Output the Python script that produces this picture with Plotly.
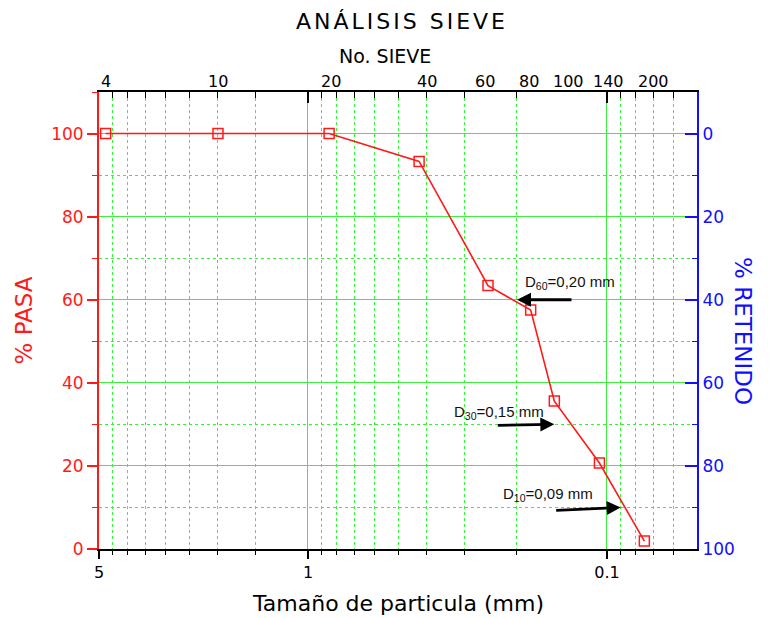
import math
import plotly.graph_objects as go

# Sieve analysis data
sieve_no = ["4", "10", "20", "40", "60", "80", "100", "140", "200"]
opening_mm = [4.75, 2.00, 0.85, 0.425, 0.25, 0.18, 0.15, 0.106, 0.075]
pct_passing = [100, 100, 100, 93.3, 63.4, 57.5, 35.6, 20.7, 1.9]
pct_retained = [100 - p for p in pct_passing]

# Characteristic diameters
d_labels = ["D<sub>60</sub>=0,20 mm", "D<sub>30</sub>=0,15 mm", "D<sub>10</sub>=0,09 mm"]
d_size_mm = [0.20, 0.15, 0.09]
d_percent = [60, 30, 10]

# Particle size axis ticks
x_limits = [5, 0.05]
x_major = [5, 1, 0.1]
x_major_text = ["5", "1", "0.1"]
x_minor = [4.5, 4, 3.5, 3, 2.5, 2, 1.5,
           0.9, 0.8, 0.7, 0.6, 0.5, 0.4, 0.3, 0.2,
           0.09, 0.08, 0.07, 0.06]
y_major = [0, 20, 40, 60, 80, 100]

# styling
FONT = "DejaVu Sans"
GRID = "#3df03d"
RED = "#ff1a1a"
BLUE = "#1010ff"
label_nudge_px = [0, 0, 2, 8, -3, -2, 14, 9, 9]
arrow_tail_px = [(56, 0), (-58, 1), (-66, 3)]
text_offset = [("left", 6, 17), ("right", -8, 12), ("right", -26, 13)]

x_range = [math.log10(v) for v in x_limits]

fig = go.Figure()
fig.add_trace(go.Scatter(
    x=opening_mm, y=pct_passing, mode="lines+markers",
    line=dict(color=RED, width=1.6),
    marker=dict(symbol="square-open", size=10, color=RED, line=dict(width=1.5, color=RED)),
    showlegend=False, name="% pasa",
))
fig.add_trace(go.Scatter(
    x=opening_mm, y=pct_retained, xaxis="x2", yaxis="y2", mode="markers",
    marker=dict(opacity=0), showlegend=False, hoverinfo="skip", name="% retenido",
))

fig.update_layout(
    width=773, height=618,
    margin=dict(l=99, r=76, t=92, b=69),
    paper_bgcolor="white", plot_bgcolor="white",
    font=dict(family=FONT, color="black"),
    title=dict(
        text='<span style="letter-spacing:3px">ANÁLISIS SIEVE</span>',
        x=402 / 773, xanchor="center", xref="container",
        y=1 - 21 / 618, yanchor="middle", yref="container",
        font=dict(family=FONT, size=22, color="black"),
    ),
    xaxis=dict(
        type="log", range=x_range, showline=True, linecolor="black", linewidth=1.5,
        ticks="outside", ticklen=8, tickwidth=1.5, tickcolor="black",
        tickmode="array", tickvals=x_major, ticktext=x_major_text,
        tickfont=dict(family=FONT, size=16, color="black"),
        showgrid=True, gridcolor=GRID, gridwidth=1, zeroline=False,
        minor=dict(tickmode="array", tickvals=x_minor, ticks="outside", ticklen=4,
                   tickwidth=1.2, tickcolor="black", showgrid=True, gridcolor=GRID,
                   gridwidth=1, griddash="dot"),
    ),
    xaxis2=dict(
        type="log", range=x_range, overlaying="x", side="top", anchor="y",
        showline=True, linecolor="black", linewidth=1.5,
        ticks="inside", ticklen=11, tickwidth=1.5, tickcolor="black",
        tickmode="array", tickvals=x_major, showticklabels=False,
        showgrid=False, zeroline=False,
        minor=dict(tickmode="array", tickvals=x_minor, ticks="inside", ticklen=6,
                   tickwidth=1.2, tickcolor="black", showgrid=False),
    ),
    yaxis=dict(
        range=[0, 110], showline=True, linecolor=RED, linewidth=2,
        ticks="outside", ticklen=10, tickwidth=1.5, tickcolor=RED,
        tickmode="array", tickvals=y_major,
        tickfont=dict(family=FONT, size=17, color=RED),
        showgrid=True, gridcolor=GRID, gridwidth=1, zeroline=False,
        minor=dict(dtick=10, tick0=0, ticks="outside", ticklen=5, tickwidth=1.2,
                   tickcolor=RED, showgrid=True, gridcolor=GRID, gridwidth=1,
                   griddash="dot"),
        title=dict(text="% PASA", standoff=12,
                   font=dict(family=FONT, size=23, color=RED)),
    ),
    yaxis2=dict(
        range=[100, -10], overlaying="y", side="right", anchor="x",
        showline=True, linecolor=BLUE, linewidth=2,
        ticks="inside", ticklen=12, tickwidth=1.5, tickcolor=BLUE,
        tickmode="array", tickvals=y_major,
        tickfont=dict(family=FONT, size=17, color=BLUE),
        showgrid=False, zeroline=False,
        minor=dict(dtick=10, tick0=0, ticks="inside", ticklen=5, tickwidth=1.2,
                   tickcolor=BLUE, showgrid=False),
    ),
)

annotations = []
# sieve numbers along the top axis
for s, d, nudge in zip(sieve_no, opening_mm, label_nudge_px):
    annotations.append(dict(
        x=math.log10(d), xref="x", y=1, yref="paper", yanchor="middle",
        yshift=11, xshift=nudge, text=s, showarrow=False,
        font=dict(family=FONT, size=16, color="black"),
    ))
annotations.append(dict(
    x=0.479, xref="paper", y=1, yref="paper", yanchor="middle", yshift=36,
    text="No. SIEVE", showarrow=False, font=dict(family=FONT, size=19, color="black"),
))
annotations.append(dict(
    x=0.5, xref="paper", y=0, yref="paper", yanchor="middle", yshift=-54,
    text="Tamaño de particula (mm)", showarrow=False,
    font=dict(family=FONT, size=22, color="black"),
))
annotations.append(dict(
    x=1, xref="paper", xshift=61, y=0.477, yref="paper", textangle=90,
    text="% RETENIDO", showarrow=False, font=dict(family=FONT, size=23, color=BLUE),
))
# D60 / D30 / D10 markers
for lab, d, p, (ax, ay), (anch, xs, ys) in zip(d_labels, d_size_mm, d_percent,
                                               arrow_tail_px, text_offset):
    annotations.append(dict(
        x=math.log10(d), xref="x", y=p, yref="y", text="", showarrow=True,
        ax=ax, ay=ay, arrowhead=2, arrowsize=1, arrowwidth=2.8, arrowcolor="black",
    ))
    annotations.append(dict(
        x=math.log10(d), xref="x", y=p, yref="y", text=lab, showarrow=False,
        xanchor=anch, xshift=xs, yanchor="middle", yshift=ys,
        font=dict(family="Liberation Sans, Arial, sans-serif", size=15, color="#111"),
    ))
fig.update_layout(annotations=annotations)

fig.write_html("out.html")
